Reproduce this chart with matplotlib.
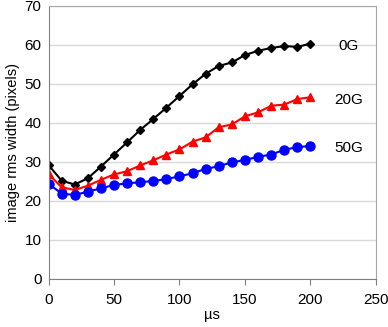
import numpy as np
import matplotlib.pyplot as plt

plt.rcParams['font.family'] = ['Liberation Sans', 'DejaVu Sans']

t = np.arange(0, 201, 10)
w_0g = [29.2, 25.2, 24.2, 25.8, 28.8, 31.9, 35.0, 38.2, 41.0, 43.9, 46.9,
        49.9, 52.6, 54.6, 55.5, 57.4, 58.5, 59.2, 59.7, 59.5, 60.3]
w_20g = [26.9, 23.5, 22.8, 23.9, 25.4, 26.8, 27.6, 29.1, 30.4, 31.9, 33.2,
         35.2, 36.3, 38.9, 39.6, 41.7, 42.7, 44.4, 44.7, 46.1, 46.6]
w_50g = [24.4, 21.9, 21.5, 22.4, 23.2, 24.1, 24.5, 24.8, 25.1, 25.6, 26.3,
         27.1, 28.2, 28.9, 29.9, 30.5, 31.3, 31.9, 33.1, 33.8, 34.1]
labels = ["0G", "20G", "50G"]

fig = plt.figure(figsize=(3.88, 3.27), dpi=100)
ax = fig.add_axes([0.125, 0.147, 0.844, 0.835])

ax.plot(t, w_0g, color='black', marker='D', markersize=4, lw=1.5)
ax.plot(t, w_20g, color='red', marker='^', markersize=6, lw=1.5)
ax.plot(t, w_50g, color='blue', marker='o', markersize=6.5, lw=1.5)

for lab, series in zip(labels, [w_0g, w_20g, w_50g]):
    ax.text(229, series[-1] - 0.6, lab, fontsize=11, ha='center', va='center')

ax.set_xlim(0, 250)
ax.set_ylim(0, 70)
ax.set_xticks(range(0, 251, 50))
ax.set_yticks(range(0, 71, 10))
ax.tick_params(axis='x', length=4, color='#808080', labelsize=11, pad=6)
ax.tick_params(axis='y', length=0, labelsize=11, pad=5)
ax.yaxis.grid(True, color='#d9d9d9', lw=1)
ax.set_axisbelow(True)
for s in ['top', 'right']:
    ax.spines[s].set_color('#a6a6a6')
for s in ['left', 'bottom']:
    ax.spines[s].set_color('#808080')

ax.set_xlabel("µs", fontsize=10.5, labelpad=1)
ax.set_ylabel("image rms width (pixels)", fontsize=10.5, labelpad=3)

plt.savefig("out.png")
